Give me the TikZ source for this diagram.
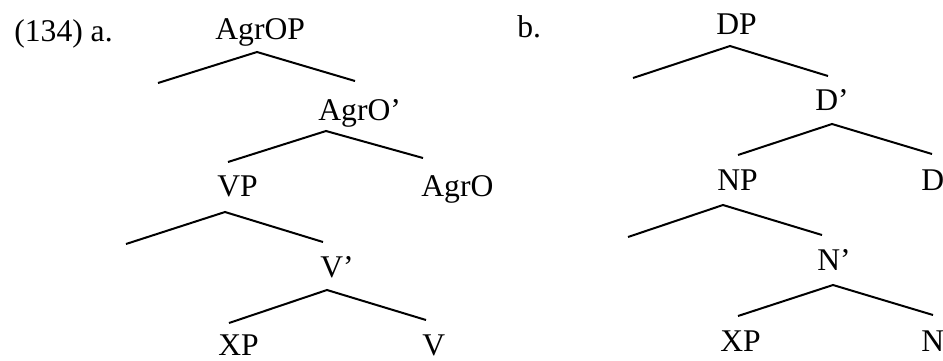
\documentclass[tikz,border=0pt]{standalone}
\usepackage{fontspec}
\setmainfont{Liberation Serif}
\usetikzlibrary{positioning}

\begin{document}
\begin{tikzpicture}[
  x=0.5pt, y=-0.5pt,
  cat/.style={inner sep=0pt,anchor=base west,font=\fontsize{15.8}{18}\selectfont},
  branch/.style={line width=1pt,line join=miter}
]
  \useasboundingbox (0,0) rectangle (943,360);

  % (134a)
  \node[cat] (lbla) at (14,41) {(134) a.};
  \node[cat] (agrop) at (215,39) {AgrOP};
  \node[cat] (agrobar) at (318,120) {AgrO’};
  \node[cat] (vp) at (217,196) {VP};
  \node[cat] (agro) at (421,196) {AgrO};
  \node[cat] (vbar) at (320,277) {V’};
  \node[cat] (xpa) at (218,355) {XP};
  \node[cat] (v) at (422,355) {V};
  \coordinate (agrop-t) at (257,52);
  \coordinate (agrop-l) at (158,83);
  \coordinate (agrop-r) at (355,81);
  \coordinate (agrobar-t) at (326,131);
  \coordinate (agrobar-l) at (228,162);
  \coordinate (agrobar-r) at (423,158);
  \coordinate (vp-t) at (225,212);
  \coordinate (vp-l) at (126,244);
  \coordinate (vp-r) at (323,242);
  \coordinate (vbar-t) at (327,290);
  \coordinate (vbar-l) at (229,323);
  \coordinate (vbar-r) at (426,320);
  \draw[branch] (agrop-l) -- (agrop-t) -- (agrop-r);
  \draw[branch] (agrobar-l) -- (agrobar-t) -- (agrobar-r);
  \draw[branch] (vp-l) -- (vp-t) -- (vp-r);
  \draw[branch] (vbar-l) -- (vbar-t) -- (vbar-r);

  % (134b)
  \node[cat] (lblb) at (517,37) {b.};
  \node[cat] (dp) at (716,34) {DP};
  \node[cat] (dbar) at (815,110) {D’};
  \node[cat] (np) at (717,190) {NP};
  \node[cat] (d) at (921,190) {D};
  \node[cat] (nbar) at (817,270) {N’};
  \node[cat] (xpb) at (720,351) {XP};
  \node[cat] (n) at (921,351) {N};
  \coordinate (dp-t) at (730,46);
  \coordinate (dp-l) at (633,78);
  \coordinate (dp-r) at (828,76);
  \coordinate (dbar-t) at (832,124);
  \coordinate (dbar-l) at (738,155);
  \coordinate (dbar-r) at (932,154);
  \coordinate (np-t) at (723,205);
  \coordinate (np-l) at (628,237);
  \coordinate (np-r) at (822,235);
  \coordinate (nbar-t) at (833,285);
  \coordinate (nbar-l) at (738,316);
  \coordinate (nbar-r) at (933,315);
  \draw[branch] (dp-l) -- (dp-t) -- (dp-r);
  \draw[branch] (dbar-l) -- (dbar-t) -- (dbar-r);
  \draw[branch] (np-l) -- (np-t) -- (np-r);
  \draw[branch] (nbar-l) -- (nbar-t) -- (nbar-r);
\end{tikzpicture}
\end{document}
